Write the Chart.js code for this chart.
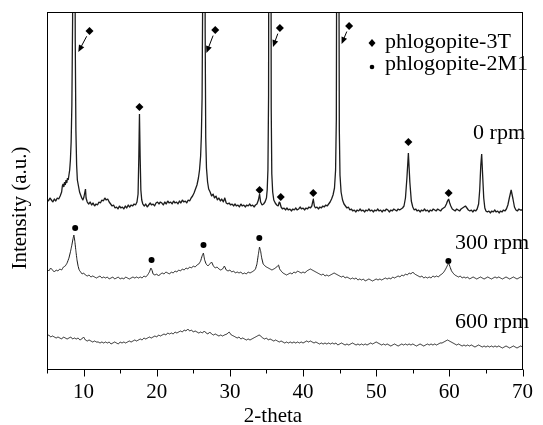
<!DOCTYPE html>
<html>
<head>
<meta charset="utf-8">
<script src="https://cdn.jsdelivr.net/npm/chart.js@4.4.1/dist/chart.umd.min.js"></script>
<style>
  html, body { margin: 0; padding: 0; background: #fff; }
</style>
</head>
<body>
<canvas id="xrd" width="543" height="425"></canvas>
<script>
// 2-theta vs intensity (arbitrary units, each pattern already offset)
const pattern0 = [
  [5.0,171],[5.2,169],[5.4,172],[5.6,170],[5.8,168],[6.0,171],[6.2,169],[6.4,172],[6.6,171],[6.8,174],
  [7.0,178],[7.1,184],[7.2,186],[7.3,183],[7.4,188],[7.5,185],[7.6,190],[7.7,187],[7.8,192],[7.9,190],
  [8.0,195],[8.1,200],[8.2,210],[8.3,228],[8.4,265],[8.5,350],[8.57,620],[8.67,2600],[8.77,620],[8.86,330],
  [8.95,240],[9.05,205],[9.15,190],[9.3,184],[9.45,178],[9.6,175],[9.75,172],[9.9,170],[10.05,173],[10.18,178],
  [10.26,181],[10.34,172],[10.5,168],[10.7,166],[10.9,168],[11.1,165],[11.3,167],[11.5,164],[11.7,166],[11.9,165],
  [12.1,168],[12.3,167],[12.5,170],[12.7,169],[12.9,172],[13.1,170],[13.3,171],[13.5,168],[13.7,166],[13.9,164],
  [14.1,165],[14.3,162],[14.5,163],[14.7,161],[14.9,164],[15.1,162],[15.3,163],[15.5,161],[15.7,164],[15.9,162],
  [16.1,165],[16.3,163],[16.5,165],[16.7,164],[16.9,166],[17.1,165],[17.3,168],[17.45,176],[17.55,212],[17.64,256],
  [17.73,214],[17.83,180],[17.95,170],[18.1,166],[18.3,164],[18.5,166],[18.7,163],[18.9,165],[19.1,167],[19.3,165],
  [19.5,166],[19.7,164],[19.9,167],[20.1,168],[20.3,166],[20.5,168],[20.7,167],[20.9,165],[21.1,168],[21.3,166],
  [21.5,169],[21.7,167],[21.9,168],[22.1,166],[22.3,169],[22.5,167],[22.7,168],[22.9,166],[23.1,169],[23.3,167],
  [23.5,170],[23.7,168],[23.9,169],[24.1,167],[24.3,170],[24.5,169],[24.7,172],[24.9,174],[25.1,177],[25.3,181],
  [25.5,185],[25.7,192],[25.85,200],[26.0,214],[26.1,234],[26.2,272],[26.28,370],[26.34,700],[26.45,2600],[26.56,700],
  [26.62,340],[26.7,232],[26.8,202],[26.95,188],[27.1,181],[27.3,178],[27.5,174],[27.7,176],[27.9,172],[28.1,174],
  [28.3,170],[28.5,172],[28.7,169],[28.9,171],[29.1,168],[29.3,172],[29.5,167],[29.7,166],[29.9,167],[30.1,165],
  [30.3,166],[30.5,164],[30.7,166],[30.9,164],[31.1,165],[31.3,163],[31.5,166],[31.7,164],[31.9,165],[32.1,163],
  [32.3,165],[32.5,164],[32.7,166],[32.9,164],[33.1,165],[33.3,163],[33.5,165],[33.7,166],[33.9,170],[34.06,176],
  [34.2,168],[34.4,165],[34.6,166],[34.8,168],[35.0,172],[35.1,180],[35.2,200],[35.29,275],[35.36,700],[35.47,2600],
  [35.58,700],[35.65,262],[35.73,196],[35.85,178],[36.0,170],[36.2,167],[36.4,165],[36.6,164],[36.75,168],[36.85,167],
  [37.0,163],[37.2,161],[37.4,162],[37.6,160],[37.8,162],[38.0,160],[38.2,161],[38.4,159],[38.6,161],[38.8,160],
  [39.0,162],[39.2,160],[39.4,161],[39.6,163],[39.8,161],[40.0,162],[40.2,160],[40.4,162],[40.6,161],[40.8,163],
  [41.0,162],[41.2,164],[41.4,171],[41.55,164],[41.7,162],[41.9,163],[42.1,161],[42.3,163],[42.5,162],[42.7,164],
  [42.9,163],[43.1,165],[43.3,164],[43.5,166],[43.7,168],[43.9,171],[44.1,175],[44.3,182],[44.45,200],[44.55,250],
  [44.63,520],[44.75,2600],[44.87,520],[44.96,240],[45.05,195],[45.2,178],[45.4,170],[45.6,166],[45.8,164],[46.0,162],
  [46.2,163],[46.4,160],[46.6,161],[46.8,159],[47.0,160],[47.2,158],[47.4,160],[47.6,159],[47.8,161],[48.0,159],
  [48.2,160],[48.4,158],[48.6,160],[48.8,159],[49.0,161],[49.2,159],[49.4,160],[49.6,158],[49.8,160],[50.0,159],
  [50.2,161],[50.4,159],[50.6,160],[50.8,158],[51.0,160],[51.2,159],[51.4,161],[51.6,160],[51.8,158],[52.0,160],
  [52.2,159],[52.4,161],[52.6,160],[52.8,159],[53.0,161],[53.2,160],[53.4,161],[53.6,162],[53.8,164],[54.0,172],
  [54.2,192],[54.4,217],[54.6,188],[54.8,169],[55.0,163],[55.2,160],[55.4,161],[55.6,159],[55.8,160],[56.0,158],
  [56.2,160],[56.4,159],[56.6,161],[56.8,159],[57.0,160],[57.2,158],[57.4,160],[57.6,159],[57.8,161],[58.0,160],
  [58.2,159],[58.4,161],[58.6,160],[58.8,159],[59.0,161],[59.2,162],[59.4,163],[59.6,166],[59.75,169],[59.9,171],
  [60.05,167],[60.2,164],[60.4,161],[60.6,160],[60.8,159],[61.0,161],[61.2,160],[61.4,159],[61.6,161],[61.8,162],
  [62.0,163],[62.2,164],[62.4,162],[62.6,160],[62.8,159],[63.0,160],[63.2,158],[63.4,160],[63.6,159],[63.8,161],
  [64.0,166],[64.15,180],[64.3,205],[64.42,216],[64.55,195],[64.7,172],[64.85,162],[65.0,159],[65.2,158],[65.4,159],
  [65.6,157],[65.8,159],[66.0,158],[66.2,160],[66.4,158],[66.6,159],[66.8,157],[67.0,159],[67.2,158],[67.4,160],
  [67.6,159],[67.8,161],[68.0,165],[68.2,172],[68.45,180],[68.7,171],[68.9,163],[69.1,160],[69.3,159],[69.5,161],
  [69.7,160],[70.0,160]
];

const pattern300 = [
  [5.0,101],[5.25,99],[5.5,102],[5.75,100],[6.0,98],[6.25,100],[6.5,99],[6.75,101],[7.0,100],[7.25,103],
  [7.5,104],[7.75,107],[8.0,112],[8.2,118],[8.4,125],[8.55,131],[8.67,135],[8.8,129],[8.95,119],[9.1,110],
  [9.25,104],[9.4,100],[9.6,98],[9.8,96],[10.0,97],[10.25,95],[10.5,94],[10.75,95],[11.0,93],[11.25,94],
  [11.5,93],[11.75,92],[12.0,93],[12.25,94],[12.5,92],[12.75,93],[13.0,92],[13.25,93],[13.5,91],[13.75,92],
  [14.0,93],[14.25,91],[14.5,92],[14.75,93],[15.0,91],[15.25,92],[15.5,91],[15.75,93],[16.0,92],[16.25,91],
  [16.5,92],[16.75,93],[17.0,92],[17.25,93],[17.5,92],[17.75,93],[18.0,92],[18.25,94],[18.5,93],[18.75,95],
  [19.0,98],[19.2,102],[19.35,100],[19.5,96],[19.75,95],[20.0,96],[20.25,94],[20.5,96],[20.75,97],[21.0,96],
  [21.25,98],[21.5,97],[21.75,96],[22.0,98],[22.25,97],[22.5,99],[22.75,98],[23.0,100],[23.25,99],[23.5,101],
  [23.75,100],[24.0,102],[24.25,101],[24.5,103],[24.75,102],[25.0,104],[25.25,103],[25.5,105],[25.75,106],[26.0,109],
  [26.2,114],[26.38,117],[26.55,110],[26.75,106],[27.0,104],[27.25,106],[27.5,108],[27.75,104],[28.0,102],[28.25,103],
  [28.5,101],[28.75,100],[29.0,101],[29.25,104],[29.5,100],[29.75,99],[30.0,100],[30.25,98],[30.5,99],[30.75,97],
  [31.0,98],[31.25,97],[31.5,98],[31.75,96],[32.0,97],[32.25,96],[32.5,98],[32.75,97],[33.0,98],[33.25,99],
  [33.5,101],[33.7,106],[33.9,116],[34.05,123],[34.2,119],[34.35,112],[34.55,106],[34.8,104],[35.0,103],[35.25,102],
  [35.5,101],[35.75,100],[36.0,101],[36.25,102],[36.5,104],[36.65,105],[36.8,101],[37.0,99],[37.25,97],[37.5,96],
  [37.75,95],[38.0,96],[38.25,97],[38.5,96],[38.75,98],[39.0,97],[39.25,99],[39.5,98],[39.75,97],[40.0,98],
  [40.25,97],[40.5,99],[40.75,100],[41.0,101],[41.25,100],[41.5,99],[41.75,98],[42.0,97],[42.25,96],[42.5,95],
  [42.75,96],[43.0,94],[43.25,95],[43.5,94],[43.75,95],[44.0,96],[44.25,97],[44.5,96],[44.75,95],[45.0,94],
  [45.25,93],[45.5,94],[45.75,92],[46.0,93],[46.25,92],[46.5,91],[46.75,92],[47.0,91],[47.25,92],[47.5,90],
  [47.75,91],[48.0,90],[48.25,91],[48.5,89],[48.75,90],[49.0,91],[49.25,90],[49.5,89],[49.75,90],[50.0,91],
  [50.25,90],[50.5,91],[50.75,90],[51.0,91],[51.25,92],[51.5,91],[51.75,92],[52.0,91],[52.25,93],[52.5,92],
  [52.75,93],[53.0,94],[53.25,93],[53.5,95],[53.75,94],[54.0,96],[54.25,95],[54.5,97],[54.75,96],[55.0,98],
  [55.25,96],[55.5,95],[55.75,94],[56.0,93],[56.25,94],[56.5,92],[56.75,93],[57.0,92],[57.25,93],[57.5,92],
  [57.75,94],[58.0,93],[58.25,94],[58.5,93],[58.75,95],[59.0,96],[59.25,98],[59.5,101],[59.7,104],[59.9,107],
  [60.1,103],[60.3,99],[60.5,97],[60.75,95],[61.0,94],[61.25,93],[61.5,94],[61.75,92],[62.0,93],[62.25,92],
  [62.5,93],[62.75,91],[63.0,92],[63.25,93],[63.5,92],[63.75,91],[64.0,92],[64.25,93],[64.5,92],[64.75,91],
  [65.0,92],[65.25,93],[65.5,92],[65.75,91],[66.0,92],[66.25,93],[66.5,92],[66.75,93],[67.0,92],[67.25,91],
  [67.5,92],[67.75,93],[68.0,92],[68.25,91],[68.5,92],[68.75,93],[69.0,92],[69.25,91],[69.5,92],[69.75,93],
  [70.0,92]
];

const pattern600 = [
  [5.0,34],[5.25,35],[5.5,33],[5.75,34],[6.0,33],[6.25,32],[6.5,33],[6.75,32],[7.0,31],[7.25,33],
  [7.5,32],[7.75,31],[8.0,32],[8.25,33],[8.5,31],[8.75,32],[9.0,31],[9.25,32],[9.5,30],[9.75,31],
  [10.0,33],[10.25,30],[10.5,29],[10.75,30],[11.0,29],[11.25,28],[11.5,29],[11.75,28],[12.0,28],[12.25,27],
  [12.5,28],[12.75,27],[13.0,28],[13.25,27],[13.5,28],[13.75,26],[14.0,27],[14.25,28],[14.5,27],[14.75,26],
  [15.0,28],[15.25,27],[15.5,28],[15.75,27],[16.0,28],[16.25,29],[16.5,28],[16.75,29],[17.0,30],[17.25,29],
  [17.5,30],[17.75,31],[18.0,30],[18.25,32],[18.5,31],[18.75,32],[19.0,33],[19.25,32],[19.5,33],[19.75,34],
  [20.0,33],[20.25,35],[20.5,34],[20.75,35],[21.0,36],[21.25,35],[21.5,37],[21.75,36],[22.0,37],[22.25,36],
  [22.5,38],[22.75,37],[23.0,38],[23.25,39],[23.5,38],[23.75,40],[24.0,39],[24.25,41],[24.5,39],[24.75,40],
  [25.0,38],[25.25,39],[25.5,38],[25.75,37],[26.0,38],[26.25,37],[26.5,39],[26.75,37],[27.0,36],[27.25,38],
  [27.5,36],[27.75,35],[28.0,36],[28.25,35],[28.5,34],[28.75,35],[29.0,34],[29.25,35],[29.6,36],[29.9,38],
  [30.2,35],[30.5,34],[30.75,33],[31.0,32],[31.25,33],[31.5,31],[31.75,32],[32.0,31],[32.25,30],[32.5,31],
  [32.75,30],[33.0,31],[33.25,32],[33.5,33],[33.75,34],[34.0,35],[34.2,34],[34.5,32],[34.75,31],[35.0,32],
  [35.25,30],[35.5,31],[35.75,30],[36.0,29],[36.25,30],[36.5,29],[36.75,28],[37.0,29],[37.25,28],[37.5,27],
  [37.75,28],[38.0,27],[38.25,28],[38.5,27],[38.75,28],[39.0,27],[39.25,28],[39.5,27],[39.75,28],[40.0,27],
  [40.25,28],[40.5,29],[40.75,28],[41.0,29],[41.25,28],[41.5,27],[41.75,28],[42.0,27],[42.25,26],[42.5,27],
  [42.75,26],[43.0,27],[43.25,26],[43.5,27],[43.75,26],[44.0,27],[44.25,26],[44.5,27],[44.75,25],[45.0,26],
  [45.25,27],[45.5,26],[45.75,25],[46.0,26],[46.25,25],[46.5,26],[46.75,27],[47.0,26],[47.25,25],[47.5,26],
  [47.75,25],[48.0,26],[48.25,25],[48.5,26],[48.75,25],[49.0,26],[49.25,27],[49.5,26],[49.75,27],[50.0,28],
  [50.25,27],[50.5,26],[50.75,25],[51.0,26],[51.25,25],[51.5,26],[51.75,25],[52.0,24],[52.25,25],[52.5,26],
  [52.75,25],[53.0,24],[53.25,25],[53.5,26],[53.75,25],[54.0,26],[54.25,25],[54.5,26],[54.75,25],[55.0,26],
  [55.25,25],[55.5,24],[55.75,25],[56.0,26],[56.25,25],[56.5,24],[56.75,25],[57.0,26],[57.25,25],[57.5,26],
  [57.75,25],[58.0,26],[58.25,25],[58.5,26],[58.75,27],[59.0,27],[59.25,28],[59.5,29],[59.75,30],[60.0,29],
  [60.25,28],[60.5,27],[60.75,26],[61.0,25],[61.25,26],[61.5,25],[61.75,24],[62.0,25],[62.25,24],[62.5,25],
  [62.75,24],[63.0,25],[63.25,24],[63.5,23],[63.75,24],[64.0,25],[64.25,24],[64.5,23],[64.75,24],[65.0,23],
  [65.25,24],[65.5,23],[65.75,24],[66.0,23],[66.25,24],[66.5,23],[66.75,24],[67.0,23],[67.25,22],[67.5,23],
  [67.75,24],[68.0,23],[68.25,22],[68.5,23],[68.75,24],[69.0,23],[69.25,22],[69.5,23],[69.75,24],[70.0,23]
];

// peak markers: the first four sit above the off-scale reflections and get an arrow
const peaks3T = [[10.81,339],[28.0,340],[36.83,342],[46.3,344],[17.64,263],[34.06,180],[36.95,173],[41.4,177],[54.4,228],[59.9,177]];
const arrowTips = [[9.28,318],[26.79,317],[35.89,323],[45.27,326]];
const peaks2M1 = [[8.85,142],[19.29,110],[26.39,125],[34.02,132],[59.87,109]];

const xTicks = [5, 10, 15, 20, 25, 30, 35, 40, 45, 50, 55, 60, 65, 70];
const legendNames = ["phlogopite-3T", "phlogopite-2M1"];
const curveNames = ["0 rpm", "300 rpm", "600 rpm"];

const SERIF = '"Liberation Serif", "Times New Roman", serif';
const toPoints = (rows) => rows.map(([x, y]) => ({ x, y }));

// a tiny tension keeps Chart.js off its per-pixel fast path, which
// collapses the narrow reflections into stray vertical strokes
const trace = (rows, width) => ({
  data: toPoints(rows),
  showLine: true,
  borderColor: "#1c1c1c",
  borderWidth: width,
  borderJoinStyle: "bevel",
  pointRadius: 0,
  tension: 0.001,
});

const decorations = {
  id: "decorations",
  afterDatasetsDraw(chart) {
    const { ctx, chartArea: a, scales: { x, y } } = chart;
    ctx.save();
    ctx.strokeStyle = "#000";
    ctx.fillStyle = "#000";
    ctx.lineWidth = 1;

    // frame
    const l = Math.round(a.left) + 0.5, t = Math.round(a.top) + 0.5;
    const r = Math.round(a.right) - 0.5, b = Math.round(a.bottom) - 0.5;
    ctx.strokeRect(l, t, r - l, b - t);

    // bottom ticks
    xTicks.forEach((v) => {
      const px = Math.round(x.getPixelForValue(v)) + 0.5;
      const len = v % 10 === 0 ? 7 : 4;
      ctx.beginPath();
      ctx.moveTo(px, b);
      ctx.lineTo(px, b + len);
      ctx.stroke();
    });

    // arrows from the diamonds to the off-scale peaks
    arrowTips.forEach(([tx, ty], i) => {
      const x0 = x.getPixelForValue(peaks3T[i][0]);
      const y0 = y.getPixelForValue(peaks3T[i][1]);
      const x1 = x.getPixelForValue(tx);
      const y1 = y.getPixelForValue(ty);
      const ang = Math.atan2(y1 - y0, x1 - x0);
      const c = Math.cos(ang), s = Math.sin(ang);
      ctx.beginPath();
      ctx.moveTo(x0 + c * 6, y0 + s * 6);
      ctx.lineTo(x1 - c * 6, y1 - s * 6);
      ctx.stroke();
      ctx.beginPath();
      ctx.moveTo(x1, y1);
      ctx.lineTo(x1 - c * 7 - s * 3, y1 - s * 7 + c * 3);
      ctx.lineTo(x1 - c * 7 + s * 3, y1 - s * 7 - c * 3);
      ctx.closePath();
      ctx.fill();
    });

    // legend
    ctx.beginPath();
    ctx.moveTo(372, 39);
    ctx.lineTo(375.5, 43);
    ctx.lineTo(372, 47);
    ctx.lineTo(368.5, 43);
    ctx.closePath();
    ctx.fill();
    ctx.beginPath();
    ctx.arc(372, 67, 2.3, 0, Math.PI * 2);
    ctx.fill();

    ctx.font = "22px " + SERIF;
    ctx.textBaseline = "middle";
    ctx.textAlign = "left";
    ctx.fillText(legendNames[0], 385, 42);
    ctx.fillText(legendNames[1], 385, 64);

    ctx.textAlign = "right";
    ctx.fillText(curveNames[0], 525, 133);
    ctx.fillText(curveNames[1], 529, 243);
    ctx.fillText(curveNames[2], 529, 322);

    // axis titles
    ctx.font = "21px " + SERIF;
    ctx.textAlign = "center";
    ctx.fillText("2-theta", 273, 416);
    ctx.translate(20, 208);
    ctx.rotate(-Math.PI / 2);
    ctx.fillText("Intensity (a.u.)", 0, 0);
    ctx.restore();
  },
};

new Chart(document.getElementById("xrd"), {
  type: "scatter",
  data: {
    datasets: [
      trace(pattern0, 1.3),
      trace(pattern300, 1),
      trace(pattern600, 1),
      {
        data: toPoints(peaks3T),
        pointStyle: "rectRot",
        pointRadius: 4,
        backgroundColor: "#000",
        borderColor: "#000",
        borderWidth: 0,
      },
      {
        data: toPoints(peaks2M1),
        pointStyle: "circle",
        pointRadius: 3,
        backgroundColor: "#000",
        borderColor: "#000",
        borderWidth: 0,
      },
    ],
  },
  options: {
    responsive: false,
    animation: false,
    devicePixelRatio: 1,
    layout: { padding: { top: 12, right: 10, left: 0, bottom: 0 } },
    plugins: {
      legend: { display: false },
      tooltip: { enabled: false },
    },
    scales: {
      x: {
        type: "linear",
        min: 5,
        max: 70,
        afterFit: (s) => { s.height = 55; },
        grid: { display: false, drawTicks: false },
        border: { display: false },
        ticks: {
          stepSize: 5,
          autoSkip: false,
          maxRotation: 0,
          padding: 10,
          color: "#000",
          font: { family: SERIF, size: 21 },
          callback: (v) => (v % 10 === 0 ? v : ""),
        },
      },
      y: {
        type: "linear",
        min: 0,
        max: 358,
        afterFit: (s) => { s.width = 47; },
        grid: { display: false, drawTicks: false },
        border: { display: false },
        ticks: { display: false },
      },
    },
  },
  plugins: [decorations],
});
</script>
</body>
</html>
